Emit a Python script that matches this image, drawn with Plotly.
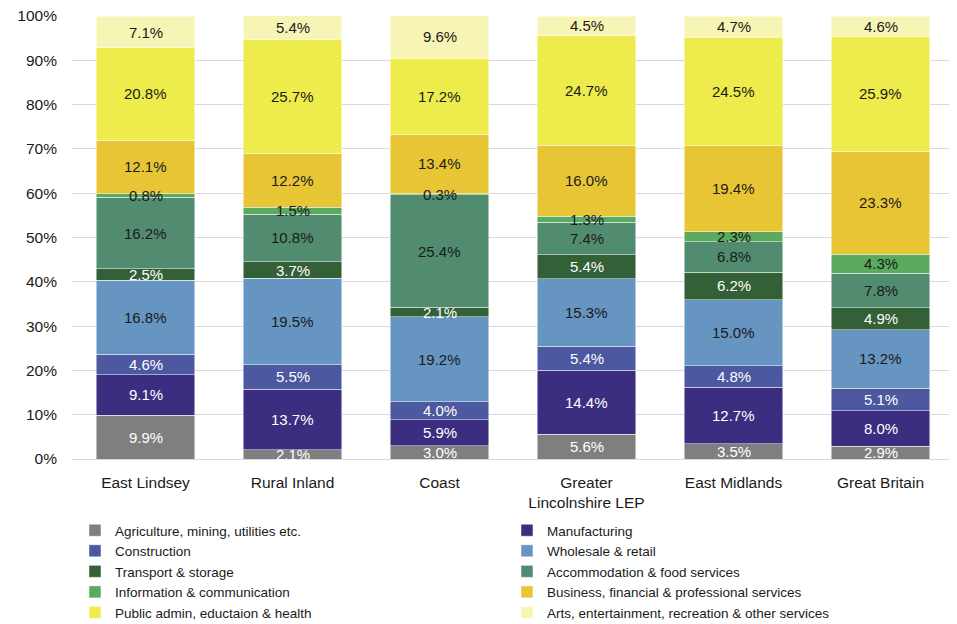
import plotly.graph_objects as go

categories = ["East Lindsey", "Rural Inland", "Coast", "Greater<br>Lincolnshire LEP", "East Midlands", "Great Britain"]

sectors = [
    "Agriculture, mining, utilities etc.",
    "Manufacturing",
    "Construction",
    "Wholesale & retail",
    "Transport & storage",
    "Accommodation & food services",
    "Information & communication",
    "Business, financial & professional services",
    "Public admin, eductaion & health",
    "Arts, entertainment, recreation & other services",
]

agriculture = [9.9, 2.1, 3.0, 5.6, 3.5, 2.9]
manufacturing = [9.1, 13.7, 5.9, 14.4, 12.7, 8.0]
construction = [4.6, 5.5, 4.0, 5.4, 4.8, 5.1]
wholesale = [16.8, 19.5, 19.2, 15.3, 15.0, 13.2]
transport = [2.5, 3.7, 2.1, 5.4, 6.2, 4.9]
accommodation = [16.2, 10.8, 25.4, 7.4, 6.8, 7.8]
information = [0.8, 1.5, 0.3, 1.3, 2.3, 4.3]
business = [12.1, 12.2, 13.4, 16.0, 19.4, 23.3]
public_admin = [20.8, 25.7, 17.2, 24.7, 24.5, 25.9]
arts = [7.1, 5.4, 9.6, 4.5, 4.7, 4.6]

series = [agriculture, manufacturing, construction, wholesale, transport,
          accommodation, information, business, public_admin, arts]

colors = ["#7f7f7f", "#3b2e80", "#4c58a0", "#6795c1", "#336037",
          "#518c70", "#5aab5f", "#e8c535", "#eeec4c", "#f7f5b6"]
text_colors = ["white", "white", "white", "#1a1a1a", "white",
               "#1a1a1a", "#1a1a1a", "#1a1a1a", "#1a1a1a", "#1a1a1a"]

FONT = "Liberation Sans"

fig = go.Figure()
cum = [0.0] * len(categories)
annotations = []
for name, vals, col, tcol in zip(sectors, series, colors, text_colors):
    fig.add_trace(go.Bar(
        name=name, x=categories, y=vals,
        marker=dict(color=col, line=dict(color="rgba(255,255,255,0.6)", width=0.8)),
        hoverinfo="name+y",
    ))
    for i, v in enumerate(vals):
        mid = cum[i] + v / 2
        annotations.append(dict(
            x=categories[i], y=mid, xref="x", yref="y",
            text=f"{v:.1f}%", showarrow=False,
            font=dict(family=FONT, size=15, color=tcol),
        ))
        cum[i] += v

# the page body adds an 8px offset, so the figure is sized to fit the window
fig.update_layout(
    barmode="stack",
    bargap=0.327,
    width=949, height=616,
    margin=dict(l=64, r=3, t=8, b=165, autoexpand=False),
    plot_bgcolor="white", paper_bgcolor="white",
    font=dict(family=FONT, size=15, color="#1a1a1a"),
    annotations=annotations,
    showlegend=True,
    legend=dict(
        orientation="h", traceorder="normal",
        xref="container", yref="container",
        x=0.0706, xanchor="left", y=0.177, yanchor="top",
        entrywidth=387, entrywidthmode="pixels",
        font=dict(family=FONT, size=13.5, color="#1a1a1a"),
        itemwidth=30, tracegroupgap=0,
    ),
    xaxis=dict(showline=False, ticks="", ticklabelstandoff=12,
               tickfont=dict(family=FONT, size=15.5, color="#1a1a1a")),
    yaxis=dict(range=[0, 100], dtick=10, ticksuffix="%",
               ticklabelstandoff=14, ticklabeloverflow="allow",
               showgrid=True, gridcolor="#d9d9d9", gridwidth=1,
               zeroline=True, zerolinecolor="#d9d9d9", zerolinewidth=1,
               tickfont=dict(family=FONT, size=15.5, color="#1a1a1a")),
)

fig.write_html("out.html")
